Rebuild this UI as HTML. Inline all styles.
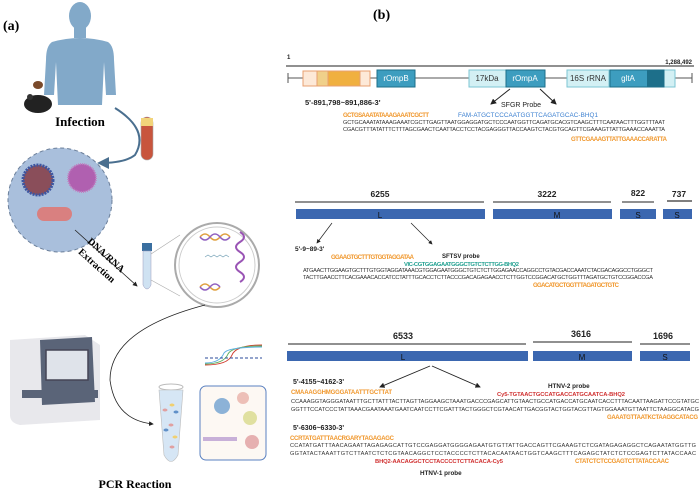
<!DOCTYPE html>
<html><head><meta charset="utf-8"><style>
html,body{margin:0;padding:0;background:#fff;}
svg{display:block;font-family:"Liberation Sans",sans-serif;}
.s{font-size:5.6px;fill:#333;}
.o{font-size:6px;fill:#f0962a;font-weight:bold;}
.b{font-weight:bold;fill:#222;}
</style></head><body>
<svg width="700" height="491" viewBox="0 0 700 491" xmlns="http://www.w3.org/2000/svg">
<defs><marker id="ah" markerWidth="6" markerHeight="6" refX="5" refY="3" orient="auto"><path d="M0,0L6,3L0,6z" fill="#222"/></marker>
<marker id="ab" markerWidth="6" markerHeight="6" refX="5" refY="3" orient="auto"><path d="M0,0L6,3L0,6z" fill="#4a6f8f"/></marker></defs>
<!-- LEFT PANEL -->
<text x="3" y="30" font-family="Liberation Serif" font-weight="bold" font-size="14">(a)</text>
<g fill="#82a9c9">
<ellipse cx="80" cy="16" rx="11" ry="14"/>
<rect x="74" y="26" width="12" height="12"/>
<path d="M52,42 Q80,34 108,42 Q114,46 114,60 L116,95 L106,95 L104,62 L102,105 L58,105 L56,62 L54,95 L44,95 L46,60 Q46,46 52,42z"/>
</g>
<ellipse cx="38" cy="104" rx="14" ry="9" fill="#222"/>
<circle cx="30" cy="97" r="3" fill="#333"/>
<ellipse cx="38" cy="85" rx="5" ry="4" fill="#7a4a2a"/>
<text x="80" y="126" text-anchor="middle" font-family="Liberation Serif" font-weight="bold" font-size="13">Infection</text>
<rect x="141" y="117" width="12" height="43" rx="6" fill="#c8553d" stroke="#aaa" stroke-width="0.6"/>
<rect x="141" y="118" width="12" height="8" fill="#f2d47a"/>
<path d="M115,108 Q150,130 135,155 Q125,163 99,163" fill="none" stroke="#4a6f8f" stroke-width="2" marker-end="url(#ab)"/>
<circle cx="60" cy="200" r="52" fill="#a9bfdc" stroke="#6b7f9a" stroke-width="1" stroke-dasharray="4,3"/>
<circle cx="38" cy="180" r="15" fill="#8a4e5a" stroke="#3c55a0" stroke-width="3" stroke-dasharray="2,1"/>
<circle cx="82" cy="178" r="14" fill="#b060b0" stroke="#c080c0" stroke-width="2" stroke-dasharray="1,1"/>
<rect x="37" y="207" width="35" height="14" rx="7" fill="#d98080"/>
<line x1="75" y1="230" x2="137" y2="286" stroke="#222" stroke-width="0.8" marker-end="url(#ah)"/>
<g transform="translate(100,262) rotate(42)" font-family="Liberation Serif" font-weight="bold" font-size="10" text-anchor="middle">
<text x="0" y="-6">DNA/RNA</text><text x="0" y="8">Extraction</text></g>
<rect x="142" y="243" width="10" height="8" fill="#3a6fa0"/>
<path d="M143,251 L151,251 L151,285 Q147,293 143,285z" fill="#cfe2f2" stroke="#99b" stroke-width="0.5"/>
<line x1="151" y1="254" x2="180" y2="235" stroke="#aaa" stroke-width="0.6"/>
<line x1="151" y1="280" x2="180" y2="296" stroke="#aaa" stroke-width="0.6"/>
<circle cx="217" cy="265" r="42" fill="#fff" stroke="#aaa" stroke-width="2"/>
<circle cx="217" cy="265" r="38" fill="none" stroke="#ccc" stroke-width="1"/>
<path d="M200,237 q5,-6 10,0 q5,6 10,0 q5,-6 10,0" fill="none" stroke="#e0a040" stroke-width="1.5"/>
<path d="M200,237 q5,6 10,0 q5,-6 10,0 q5,6 10,0" fill="none" stroke="#9060c0" stroke-width="1.5"/>
<path d="M200,287 q5,-6 10,0 q5,6 10,0" fill="none" stroke="#e0a040" stroke-width="1.5"/>
<path d="M200,287 q5,6 10,0 q5,-6 10,0" fill="none" stroke="#9060c0" stroke-width="1.5"/>
<path d="M205,257 l3,-2 l3,2 l3,-2 l3,2 l3,-2 l3,2 l3,-2 l3,2" fill="none" stroke="#6a9ab0" stroke-width="0.6"/>
<path d="M240,232 q8,5 0,10 q-8,5 0,10 q8,5 0,10 q-8,5 0,10 q8,5 0,10" fill="none" stroke="#9a55b5" stroke-width="2"/>
<path d="M205,305 Q110,330 110,380 Q115,420 153,424" fill="none" stroke="#222" stroke-width="0.8" marker-end="url(#ah)"/>
<path d="M10,340 L85,335 L100,345 L100,420 L20,425 Q10,423 10,415z" fill="#e8e8ec"/>
<path d="M40,340 L92,337 L95,402 L42,405z" fill="#5a6478"/>
<rect x="46" y="350" width="42" height="30" fill="#dfe3ea" stroke="#445" stroke-width="1.5"/>
<rect x="22" y="390" width="76" height="8" fill="#5a6478"/>
<ellipse cx="171" cy="387" rx="12" ry="3" fill="#fff" stroke="#bbb"/>
<path d="M159,390 L183,390 L178,455 Q171,468 164,455z" fill="#d6e6f5" stroke="#bbb" stroke-width="0.6"/>
<g fill="#e0a0a0"><ellipse cx="165" cy="410" rx="2.5" ry="1.5"/><ellipse cx="171" cy="425" rx="2.5" ry="1.5"/><ellipse cx="172" cy="447" rx="2.5" ry="1.5"/></g>
<g fill="#6090c8"><ellipse cx="176" cy="412" rx="2.5" ry="1.5"/><ellipse cx="166" cy="430" rx="2.5" ry="1.5"/></g>
<g fill="#f0d070"><ellipse cx="172" cy="405" rx="2.5" ry="1.5"/><ellipse cx="175" cy="437" rx="2.5" ry="1.5"/></g>
<rect x="200" y="386" width="66" height="74" rx="6" fill="#fdf8f3" stroke="#5a80c0" stroke-width="1"/>
<circle cx="222" cy="406" r="8" fill="#6fa0d0" opacity="0.8"/>
<circle cx="243" cy="398" r="6" fill="#e8b0a8" opacity="0.8"/>
<circle cx="250" cy="418" r="7" fill="#e0e0a0"/>
<circle cx="252" cy="442" r="7" fill="#e6b0b0"/>
<rect x="203" y="437" width="34" height="4" fill="#c8b0d8"/>
<path d="M205,365 Q228,365 232,355 Q236,345 262,345" fill="none" stroke="#d04030" stroke-width="1"/>
<path d="M205,364 Q224,364 228,354 Q232,346 262,346" fill="none" stroke="#60b060" stroke-width="1"/>
<path d="M205,363 Q220,363 224,353 Q228,347 262,347" fill="none" stroke="#60b0e0" stroke-width="1"/>
<line x1="205" y1="358" x2="262" y2="358" stroke="#2a4a9a" stroke-dasharray="3,2"/>
<text x="135" y="488" text-anchor="middle" font-family="Liberation Serif" font-weight="bold" font-size="12">PCR Reaction</text>

<!-- RIGHT PANEL -->
<text x="373" y="19" font-family="Liberation Serif" font-weight="bold" font-size="14">(b)</text>
<text x="287" y="59" font-size="6" class="b">1</text>
<text x="692" y="64" font-size="6" class="b" text-anchor="end">1,288,492</text>
<line x1="286" y1="66" x2="694" y2="66" stroke="#222" stroke-width="1"/>
<line x1="288" y1="78" x2="692" y2="78" stroke="#555" stroke-width="1"/>
<line x1="288" y1="73" x2="288" y2="83" stroke="#555"/><line x1="692" y1="73" x2="692" y2="83" stroke="#555"/>
<rect x="303" y="71" width="67" height="15" fill="#fde9d8" stroke="#e8a070"/>
<rect x="317" y="71" width="11" height="15" fill="#f0d08a" stroke="#e8a070"/>
<rect x="328" y="71" width="32" height="15" fill="#f0b040" stroke="#e8a070"/>
<g font-size="8" text-anchor="middle">
<rect x="377" y="70" width="38" height="17" fill="#3d9dbf" stroke="#1d6f8a"/><text x="396" y="81" fill="#fff">rOmpB</text>
<rect x="469" y="70" width="37" height="17" fill="#d3f0f4" stroke="#7cc6d3"/><text x="487" y="81" fill="#333">17kDa</text>
<rect x="506" y="70" width="39" height="17" fill="#3d9dbf" stroke="#1d6f8a"/><text x="525" y="81" fill="#fff">rOmpA</text>
<rect x="567" y="70" width="42" height="17" fill="#d3f0f4" stroke="#7cc6d3"/><text x="588" y="81" fill="#333">16S rRNA</text>
<rect x="610" y="70" width="65" height="17" fill="#d3f0f4" stroke="#7cc6d3"/>
<rect x="610" y="70" width="54" height="17" fill="#3d9dbf" stroke="#1d6f8a"/>
<rect x="647" y="70" width="17" height="17" fill="#1d6f8a"/><text x="628" y="81" fill="#fff">gltA</text>
</g>
<text x="305" y="105" font-size="7.5" class="b">5'-891,798~891,886-3'</text>
<line x1="510" y1="89" x2="491" y2="104" stroke="#222" marker-end="url(#ah)"/>
<line x1="540" y1="89" x2="556" y2="104" stroke="#222" marker-end="url(#ah)"/>
<text x="501" y="107" font-size="7" fill="#222">SFGR Probe</text>
<text x="343" y="117" class="o" textLength="86">GCTGSAAATATAAAGAAATCGCTT</text>
<text x="458" y="117" font-size="6.3" fill="#3a7fd0" textLength="140">FAM-ATGCTCCCAATGGTTCAGATGCAC-BHQ1</text>
<text x="343" y="124" class="s" textLength="322">GCTGCAAATATAAAGAAATCGCTTGAGTTAATGGAGGATGCTCCCAATGGTTCAGATGCACGTCAAGCTTTCAATAACTTTGGTTTAAT</text>
<text x="343" y="131" class="s" textLength="322">CGACGTTTATATTTCTTTAGCGAACTCAATTACCTCCTACGAGGGTTACCAAGTCTACGTGCAGTTCGAAAGTTATTGAAACCAAATTA</text>
<text x="571" y="141" class="o" textLength="96">GTTCGAAAGTTATTGAAACCARATTA</text>

<g class="b" font-size="8.5" text-anchor="middle">
<text x="380" y="197">6255</text><text x="547" y="197">3222</text><text x="638" y="196">822</text><text x="679" y="197">737</text></g>
<g stroke="#222" stroke-width="1"><line x1="295" y1="202" x2="484" y2="202"/><line x1="493" y1="202" x2="611" y2="202"/><line x1="622" y1="202" x2="654" y2="202"/><line x1="667" y1="201" x2="692" y2="201" stroke="#555" stroke-width="1.5"/></g>
<g fill="#3b67b0"><rect x="296" y="209" width="189" height="10"/><rect x="493" y="209" width="119" height="10"/><rect x="620" y="209" width="36" height="10"/><rect x="663" y="209" width="29" height="10"/></g>
<g font-size="8" text-anchor="middle" fill="#111"><text x="380" y="218">L</text><text x="557" y="218">M</text><text x="638" y="218">S</text><text x="677" y="218">S</text></g>
<line x1="332" y1="223" x2="317" y2="243" stroke="#222" stroke-width="0.7" marker-end="url(#ah)"/>
<line x1="411" y1="223" x2="432" y2="244" stroke="#222" stroke-width="0.7" marker-end="url(#ah)"/>
<text x="295" y="251" font-size="6.5" class="b">5'-9~89-3'</text>
<text x="331" y="259" class="o" textLength="83" fill="#f0b030">GGAAGTGCTTTGTGGTAGGATAA</text>
<text x="442" y="258" font-size="6" class="b">SFTSV probe</text>
<text x="404" y="266" font-size="5.8" fill="#20a090" font-weight="bold" textLength="115">VIC-CGTGGAGAATGGGCTGTCTCTTGG-BHQ2</text>
<text x="303" y="272" class="s" textLength="350">ATGAACTTGGAAGTGCTTTGTGGTAGGATAAACGTGGAGAATGGGCTGTCTCTTGGAGAACCAGGCCTGTACGACCAAATCTACGACAGGCCTGGGCT</text>
<text x="303" y="279" class="s" textLength="350">TACTTGAACCTTCACGAAACACCATCCTATTTGCACCTCTTACCCGACAGAGAACCTCTTGGTCCGGACATGCTGGTTTAGATGCTGTCCGGACCGA</text>
<text x="533" y="287" class="o" textLength="86" fill="#f0b030">GGACATGCTGGTTTAGATGCTGTC</text>

<g class="b" font-size="9" text-anchor="middle"><text x="403" y="339">6533</text><text x="581" y="337">3616</text><text x="663" y="339">1696</text></g>
<g stroke="#222" stroke-width="1"><line x1="288" y1="344" x2="526" y2="344"/><line x1="533" y1="342" x2="632" y2="342"/><line x1="640" y1="344" x2="690" y2="344"/></g>
<g fill="#3b67b0"><rect x="287" y="351" width="241" height="10"/><rect x="533" y="351" width="99" height="10"/><rect x="640" y="351" width="50" height="10"/></g>
<g font-size="8" text-anchor="middle" fill="#111"><text x="403" y="360">L</text><text x="582" y="360">M</text><text x="665" y="360">S</text></g>
<line x1="430" y1="366" x2="380" y2="387" stroke="#222" stroke-width="0.9" marker-end="url(#ah)"/>
<line x1="432" y1="366" x2="480" y2="387" stroke="#222" stroke-width="0.9" marker-end="url(#ah)"/>
<text x="293" y="384" font-size="7" class="b">5'-4155~4162-3'</text>
<text x="291" y="394" class="o" textLength="101">CMAAAGGHMGGGATAATTTGCTTAT</text>
<text x="548" y="388" font-size="6.3" class="b">HTNV-2 probe</text>
<text x="497" y="396" font-size="5.8" fill="#d03030" font-weight="bold" textLength="128">Cy5-TGTAACTGCCATGACCATGCAATCA-BHQ2</text>
<text x="291" y="403" class="s" textLength="408">CCAAAGGTAGGGATAATTTGCTTATTTACTTAGTTAGGAAGCTAAATGACCCGAGCATTGTAACTGCCATGACCATGCAATCACCTTTACAATTAAGATTCCGTATGC</text>
<text x="291" y="411" class="s" textLength="408">GGTTTCCATCCCTATTAAACGAATAAATGAATCAATCCTTCGATTTACTGGGCTCGTAACATTGACGGTACTGGTACGTTAGTGGAAATGTTAATTCTAAGGCATACG</text>
<text x="607" y="419" class="o" textLength="91">GAAATGTTAATKCTAAGGCATACG</text>
<text x="293" y="430" font-size="7" class="b">5'-6306~6330-3'</text>
<text x="290" y="440" class="o" textLength="104">CCRTATGATTTAACRGARYTAGAGAGC</text>
<text x="290" y="447" class="s" textLength="406">CCATATGATTTAACAGAATTAGAGAGCATTGTCCGAGGATGGGGAGAATGTGTTATTGACCAGTTCGAAAGTCTCGATAGAGAGGCTCAGAATATGGTTG</text>
<text x="290" y="455" class="s" textLength="406">GGTATACTAAATTGTCTTAATCTCTCGTAACAGGCTCCTACCCCTCTTACACAATAACTGGTCAAGCTTTCAGAGCTATCTCTCCGAGTCTTATACCAAC</text>
<text x="375" y="463" font-size="5.8" fill="#d03030" font-weight="bold" textLength="128">BHQ2-AACAGGCTCCTACCCCTCTTACACA-Cy5</text>
<text x="575" y="463" class="o" textLength="94">CTATCTCTCCGAGTCTTATACCAAC</text>
<text x="420" y="475" font-size="6.3" class="b">HTNV-1 probe</text>
</svg>
</body></html>
